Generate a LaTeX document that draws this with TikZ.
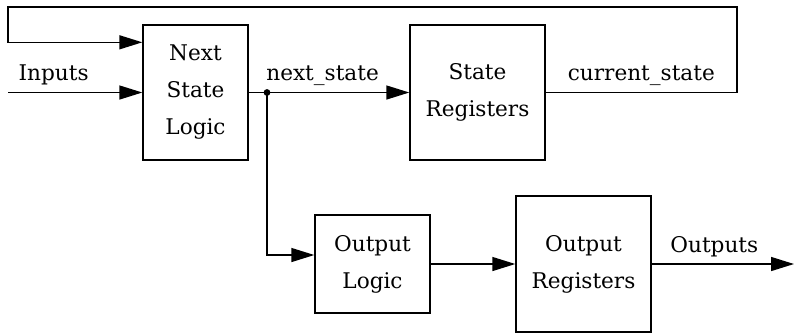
\documentclass[tikz,border=0pt]{standalone}
\usepackage{fontspec}
\setmainfont{DejaVu Serif}
\usepackage{tikz}
\usetikzlibrary{arrows.meta,positioning}
\tikzset{
  fsmblock/.style = {
    rectangle,
    draw,
    line width=0.7pt,
    align=center,
    inner sep=0pt,
    font=\fontsize{10.8}{18.5}\selectfont
  },
  sigarrow/.style = {
    -{Triangle[length=11.5pt,width=7pt]},
    line width=0.7pt
  },
  siglabel/.style = {
    anchor=base,
    yshift=6pt,
    inner sep=0pt,
    font=\fontsize{10.8}{14}\selectfont
  }
}

\begin{document}
\begin{tikzpicture}[x=0.5pt,y=-0.5pt]
    \useasboundingbox (0,0) rectangle (795,334);
    % blocks
    \node[fsmblock, minimum width=52.5pt, minimum height=67.5pt] (nsl) at (195.5,92.5) {Next\\State\\Logic};
    \node[fsmblock, minimum width=67.5pt, minimum height=67.5pt] (sreg) at (477.5,92.5) {State\\Registers};
    \node[fsmblock, minimum width=57.5pt, minimum height=49pt] (olog) at (372.5,264) {Output\\Logic};
    \node[fsmblock, minimum width=67.5pt, minimum height=68pt] (oreg) at (583.5,264) {Output\\Registers};
    % free ends
    \coordinate (inputs) at (8,92.5);
    \coordinate (outputs) at (794,264);
    \coordinate (fbright) at (737,7);
    \coordinate (fbleft) at (8,7);
    \coordinate (fbin) at ([yshift=-9pt]nsl.north west);
    \coordinate (split) at (267,92.5);
    % connectors
    \draw[sigarrow] (inputs) -- node[siglabel, pos=0.34] {Inputs} (nsl.west);
    \draw[sigarrow] (nsl.east) -- node[siglabel, pos=0.46] {next\_state} (sreg.west);
    \fill (split) circle (1.7pt);
    \draw[sigarrow] (sreg.east) -- node[siglabel] {current\_state} (sreg.east -| fbright) -- (fbright) -- (fbleft) |- (fbin);
    \draw[sigarrow] (split) |- ([yshift=4.5pt]olog.west);
    \draw[sigarrow] (olog.east) -- (oreg.west);
    \draw[sigarrow] (oreg.east) -- node[siglabel, pos=0.44] {Outputs} (outputs);
  \end{tikzpicture}
\end{document}
